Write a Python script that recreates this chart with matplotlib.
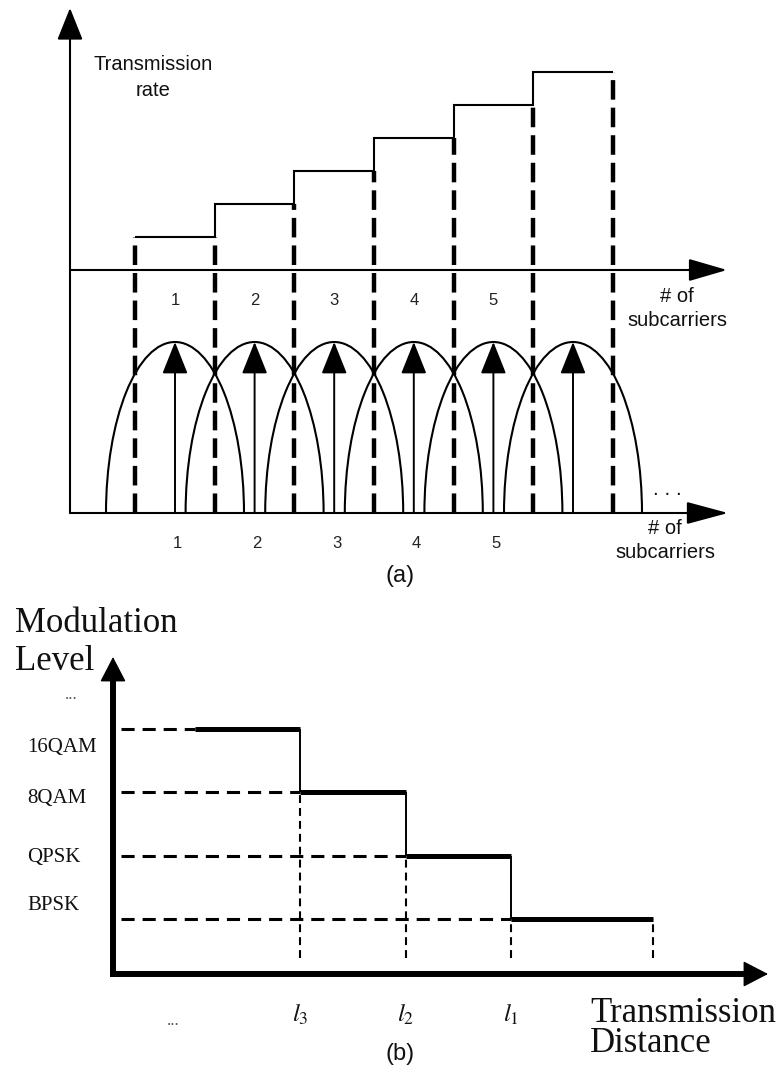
import numpy as np
import matplotlib.pyplot as plt
import matplotlib.transforms as mtransforms
from matplotlib.patches import Arc

plt.rcParams['mathtext.fontset'] = 'stix'

W, H = 779, 1075
SANS = 'Liberation Sans'
SERIF = 'Liberation Serif'

# (a) subcarrier spectrum and transmission rate per subcarrier
subcarriers = [1, 2, 3, 4, 5, 6]
rate_levels = [1, 2, 3, 4, 5, 6]
band_labels = ['1', '2', '3', '4', '5']

# (b) modulation format against transmission distance
mod_formats = ['16QAM', '8QAM', 'QPSK', 'BPSK']
mod_levels = [4, 3, 2, 1]
reach_edges = [1.0, 2.0, 3.0, 4.0, 5.35]
reach_labels = [r'$l_{\mathit{3}}$', r'$l_{\mathit{2}}$', r'$l_{\mathit{1}}$']

fig = plt.figure(figsize=(W / 100, H / 100), dpi=100)
# pixel space, origin top-left, for free-standing labels
px = mtransforms.Affine2D().scale(1 / W, -1 / H).translate(0, 1) + fig.transFigure


def box(top, bottom):
    return [0, 1 - bottom / H, 1, (bottom - top) / H]


def arrow(ax, start, end, lw, hl, hw):
    ax.annotate('', xy=end, xytext=start,
                arrowprops=dict(arrowstyle=f'-|>,head_length={hl},head_width={hw}',
                                lw=lw, color='k', shrinkA=0, shrinkB=0,
                                mutation_scale=1))


# ---- panel (a) ----
def sx(p):
    return 1 + (p - 175) / 79.6


def ry(p):
    return (270 - p) / 33


def sy(p):
    return (513 - p) / 171


ax_r = fig.add_axes(box(0, 600))
ax_s = fig.add_axes(box(0, 600))
for ax in (ax_r, ax_s):
    ax.set_xlim(sx(0), sx(W))
    ax.axis('off')
ax_r.set_ylim(ry(600), ry(0))
ax_s.set_ylim(sy(600), sy(0))

edges = np.append(np.array(subcarriers) - 0.5, subcarriers[-1] + 0.5)
ax_r.stairs(rate_levels, edges, baseline=None, color='k', lw=1.5)
tops = [rate_levels[0]] + rate_levels
ax_r.vlines(edges, ry(513), tops, colors='k', lw=3.2,
            linestyles=[(0, (4.4, 1.8))])

arrow(ax_r, (sx(70), ry(513)), (sx(70), ry(8)), 1.5, 20, 8)
arrow(ax_r, (sx(70), 0), (sx(727), 0), 1.5, 24, 7)
arrow(ax_s, (sx(70), 0), (sx(728), 0), 1.5, 26, 7)

half_w = 69 / 79.6
for k in subcarriers:
    ax_s.add_patch(Arc((k, 0), 2 * half_w, 2, theta1=0, theta2=180,
                       lw=1.5, color='k'))
    arrow(ax_s, (k, 0), (k, 1), 1.4, 20, 8)

bt = mtransforms.blended_transform_factory(ax_r.transData, px)
for k, lab in zip(subcarriers, band_labels):
    ax_r.text(k, 305, lab, transform=bt, ha='center', va='baseline',
              fontsize=12, family=SANS, color='#222')
    ax_r.text(k + 0.03, 548, lab, transform=bt, ha='center', va='baseline',
              fontsize=12, family=SANS, color='#222')

sans = dict(transform=px, family=SANS, color='#111', va='baseline', ha='center')
ax_r.text(153, 70, 'Transmission', fontsize=14.5, **sans)
ax_r.text(153, 96, 'rate', fontsize=14.5, **sans)
ax_r.text(677, 302, '# of', fontsize=14.5, **sans)
ax_r.text(677, 326, 'subcarriers', fontsize=14.5, **sans)
ax_r.text(665, 534, '# of', fontsize=14.5, **sans)
ax_r.text(665, 558, 'subcarriers', fontsize=14.5, **sans)
ax_r.text(667, 495, '. . .', fontsize=15, **sans)
ax_r.text(400, 582, '(a)', fontsize=17, **sans)


# ---- panel (b) ----
def dx(p):
    return (p - 89) / 105.5


def ly(p):
    return 1 + (919 - p) / 63.3


ax_m = fig.add_axes(box(600, H))
ax_m.set_xlim(dx(0), dx(W))
ax_m.set_ylim(ly(H), ly(600))
ax_m.axis('off')

# heavy axes: thick shaft plus a sharp, thinly stroked head
axis_x, axis_y = dx(113), ly(974)
ax_m.plot([axis_x, axis_x], [axis_y, ly(684)], color='k', lw=4.3)
ax_m.plot([axis_x, dx(741)], [axis_y, axis_y], color='k', lw=4.3)
arrow(ax_m, (axis_x, ly(700)), (axis_x, ly(657)), 1, 16, 8.3)
arrow(ax_m, (dx(720), axis_y), (dx(768), axis_y), 1, 16, 8.3)

starts, ends = reach_edges[:-1], reach_edges[1:]
ax_m.hlines(mod_levels, dx(121), starts, colors='k', lw=2.2,
            linestyles=[(0, (4.3, 2.6))])
ax_m.vlines(reach_edges[1:], ly(958), mod_levels[1:] + [mod_levels[-1]],
            colors='k', lw=1.5, linestyles=[(0, (3.8, 2.4))])
ax_m.hlines(mod_levels, starts, ends, colors='k', lw=3.6)
ax_m.vlines(reach_edges[1:-1], mod_levels[1:], mod_levels[:-1], colors='k', lw=1.4)

serif = dict(transform=px, family=SERIF, color='#111', va='baseline')
for lab, base in zip(mod_formats, [752, 803, 862, 910]):
    ax_m.text(27, base, lab, fontsize=15, ha='left', **serif)
ax_m.text(71, 699, '...', fontsize=12, ha='center', **{**serif, 'color': '#555'})

bx = mtransforms.blended_transform_factory(ax_m.transData, px)
for e, lab in zip(reach_edges[1:4], reach_labels):
    ax_m.text(e, 1022, lab, transform=bx, fontsize=18, ha='center',
              va='baseline', color='#111')
ax_m.text(173, 1025, '...', fontsize=12, ha='center', **{**serif, 'color': '#555'})

ax_m.text(15, 632, 'Modulation', fontsize=25, ha='left', **serif)
ax_m.text(15, 670, 'Level', fontsize=25, ha='left', **serif)
ax_m.text(590, 1022, 'Transmission', fontsize=25, ha='left', **serif)
ax_m.text(590, 1052, 'Distance', fontsize=25, ha='left', **serif)
ax_m.text(400, 1060, '(b)', fontsize=17, **sans)

fig.savefig('out.png', dpi=100)
